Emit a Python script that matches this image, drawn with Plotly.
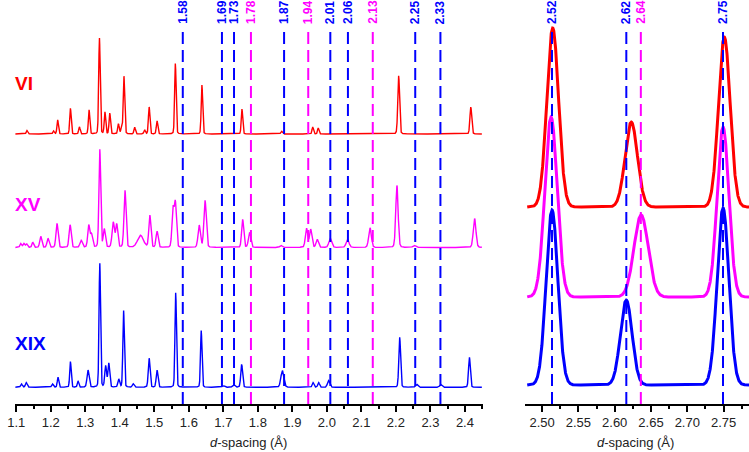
import numpy as np
import plotly.graph_objects as go

# ---------------- data ----------------
# Left panel peak tables: position (Å), height, FWHM (Å)
vi_pos = [1.131, 1.208, 1.220, 1.257, 1.283, 1.311, 1.341, 1.357, 1.371, 1.396, 1.405, 1.412,
          1.443, 1.472, 1.485, 1.508, 1.561, 1.638, 1.754, 1.869, 1.959, 1.975, 2.208, 2.417]
vi_hgt = [3.5, 3, 14, 25.7, 7, 24, 96, 21.7, 20.7, 10, 6, 57.7,
          6.7, 4, 27, 13, 70.7, 49, 25, 2.7, 7, 6, 58.3, 27]
vi_fwhm = [.005, .005, .005, .005, .005, .005, .005, .005, .005, .005, .005, .005,
           .005, .005, .005, .005, .005, .005, .005, .006, .005, .005, .006, .006]

xv_pos = [1.113, 1.122, 1.130, 1.148, 1.171, 1.192, 1.218, 1.256, 1.288, 1.310, 1.318, 1.342,
          1.355, 1.381, 1.391, 1.415, 1.460, 1.487, 1.508, 1.554, 1.561, 1.630, 1.647, 1.756,
          1.776, 1.867, 1.941, 1.953, 1.972, 2.010, 2.060, 2.125, 2.203, 2.253, 2.428]
xv_hgt = [4, 4, 3.5, 5, 11, 9, 24, 22.7, 7, 22, 13, 98,
          18, 25, 23, 57, 12, 32, 16, 38, 44, 22, 47, 28,
          15, 2, 19, 18, 8, 9, 8, 19.7, 62, 2, 29]
xv_fwhm = [.006, .006, .006, .006, .007, .007, .007, .007, .008, .007, .007, .006,
           .007, .008, .007, .007, .020, .007, .007, .007, .007, .008, .008, .007,
           .008, .008, .008, .008, .008, .010, .010, .009, .008, .010, .009]

xix_pos = [1.115, 1.129, 1.205, 1.221, 1.257, 1.279, 1.308, 1.342, 1.359, 1.368, 1.397, 1.411,
           1.439, 1.485, 1.508, 1.562, 1.636, 1.700, 1.730, 1.753, 1.871, 1.960, 1.976, 2.005,
           2.211, 2.260, 2.330, 2.413]
xix_hgt = [3.3, 4.7, 3.3, 10, 25.7, 6.3, 17, 124, 21, 24, 8, 76.7,
           3.3, 29, 17, 94.7, 56.7, 1.5, 2.6, 23, 16.7, 4.7, 4.7, 6.7,
           50, 3, 2.7, 30]
xix_fwhm = [.006, .006, .006, .005, .005, .005, .007, .005, .006, .006, .006, .005,
            .006, .006, .006, .005, .005, .008, .008, .006, .010, .006, .006, .008,
            .006, .008, .008, .006]

# Right panel peak tables
vi_r_pos = [2.5146, 2.6228, 2.7510]
vi_r_hgt = [179, 85, 170]
vi_r_fwhm = [.019, .020, .019]
xv_r_pos = [2.5123, 2.6364, 2.7492]
xv_r_hgt = [180, 82, 170]
xv_r_fwhm = [.020, .023, .019]
xix_r_pos = [2.5136, 2.6159, 2.7492]
xix_r_hgt = [175, 85, 177]
xix_r_fwhm = [.019, .019, .019]

# Reference lines (position, label, colour key)
left_line_pos = [1.5825, 1.696, 1.731, 1.780, 1.876, 1.946, 2.010, 2.061, 2.133, 2.256, 2.329]
left_line_lbl = ["1.58", "1.69", "1.73", "1.78", "1.87", "1.94", "2.01", "2.06", "2.13", "2.25", "2.33"]
left_line_col = ["b", "b", "b", "m", "b", "m", "b", "b", "m", "b", "b"]
right_line_pos = [2.5136, 2.616, 2.636, 2.7492]
right_line_lbl = ["2.52", "2.62", "2.64", "2.75"]
right_line_col = ["b", "b", "m", "b"]

names = ["VI", "XV", "XIX"]

# ---------------- styling ----------------
W, H = 749, 452
AXIS_PX = 404
RED, MAG, BLUE = "#ff0000", "#ff00ff", "#0000ff"
COLS = {"b": BLUE, "m": MAG}
left_offsets = [270, 156.5, 16.7]
right_offsets = [197, 107, 19]
series_cols = [RED, MAG, BLUE]


def profile(x, pos, hgt, fwhm, eta):
    y = np.zeros_like(x)
    for p, h, w in zip(pos, hgt, fwhm):
        s = w / 2.3548
        g = np.exp(-0.5 * ((x - p) / s) ** 2)
        l = 1.0 / (1.0 + ((x - p) / (w / 2)) ** 2)
        y += h * ((1 - eta) * g + eta * l)
    return y


xl = np.linspace(1.097, 2.449, 4000)
xr = np.linspace(2.4795, 2.785, 1500)

fig = go.Figure()
left_tables = [(vi_pos, vi_hgt, vi_fwhm), (xv_pos, xv_hgt, xv_fwhm), (xix_pos, xix_hgt, xix_fwhm)]
right_tables = [(vi_r_pos, vi_r_hgt, vi_r_fwhm), (xv_r_pos, xv_r_hgt, xv_r_fwhm),
                (xix_r_pos, xix_r_hgt, xix_r_fwhm)]

for i in range(3):
    p, h, w = left_tables[i]
    fig.add_trace(go.Scatter(x=xl, y=profile(xl, p, h, w, 0.15) + left_offsets[i], mode="lines",
                             line=dict(color=series_cols[i], width=1.4), xaxis="x", yaxis="y",
                             showlegend=False, hoverinfo="skip"))
for i in [2, 1, 0]:
    p, h, w = right_tables[i]
    fig.add_trace(go.Scatter(x=xr, y=profile(xr, p, h, w, 0.0) + right_offsets[i], mode="lines",
                             line=dict(color=series_cols[i], width=3), xaxis="x2", yaxis="y2",
                             showlegend=False, hoverinfo="skip"))

y_axis_paper = (H - AXIS_PX) / H
y_top_line = (H - 32) / H
shapes = []
annotations = []
for xref, poss, lbls, cols in [("x", left_line_pos, left_line_lbl, left_line_col),
                               ("x2", right_line_pos, right_line_lbl, right_line_col)]:
    for p, lb, c in zip(poss, lbls, cols):
        shapes.append(dict(type="line", xref=xref, yref="paper", x0=p, x1=p,
                           y0=y_axis_paper, y1=y_top_line, layer="above",
                           line=dict(color=COLS[c], width=2, dash="12px,6px")))
        annotations.append(dict(x=p, xref=xref, y=(H - 26) / H, yref="paper", text="<b>%s</b>" % lb,
                                textangle=-90, showarrow=False, xanchor="center", yanchor="bottom",
                                font=dict(family="Liberation Sans, Arial", size=12, color=COLS[c])))

for nm, col, ypx in zip(names, series_cols, [83, 204, 343]):
    annotations.append(dict(x=5 / W, xref="paper", y=(H - ypx) / H, yref="paper", text="<b>%s</b>" % nm,
                            showarrow=False, xanchor="left", yanchor="middle",
                            font=dict(family="Liberation Sans, Arial", size=19, color=col)))

for cx in [243.6, 634]:
    annotations.append(dict(x=cx / W, xref="paper", y=(H - 442) / H, yref="paper",
                            text="<i>d</i>-spacing (Å)", showarrow=False, xanchor="center", yanchor="middle",
                            font=dict(family="Liberation Sans, Arial", size=13, color="#222")))

axis_common = dict(showgrid=False, zeroline=False, showline=True, linecolor="black", linewidth=1.5,
                   ticks="outside", ticklen=6, tickwidth=1.5, tickcolor="black",
                   tickfont=dict(family="Liberation Sans, Arial", size=13, color="#222"),
                   ticklabeloverflow="allow", mirror=False)

fig.update_layout(
    width=W, height=H, margin=dict(l=0, r=0, t=0, b=0),
    plot_bgcolor="white", paper_bgcolor="white",
    xaxis=dict(domain=[7.3 / W, 480 / W], range=[1.097, 2.452], tick0=1.1, dtick=0.1, tickformat=".1f",
               minor=dict(ticks="outside", ticklen=3, tickwidth=1.5, tickcolor="black", dtick=0.05),
               anchor="y", **axis_common),
    xaxis2=dict(domain=[523 / W, 1.0], range=[2.477, 2.785], tick0=2.5, dtick=0.05, tickformat=".2f",
                minor=dict(ticks="outside", ticklen=3, tickwidth=1.5, tickcolor="black", dtick=0.025),
                anchor="y2", **axis_common),
    yaxis=dict(domain=[y_axis_paper, 1.0], range=[0, AXIS_PX], visible=False, anchor="x"),
    yaxis2=dict(domain=[y_axis_paper, 1.0], range=[0, AXIS_PX], visible=False, anchor="x2"),
    shapes=shapes, annotations=annotations,
)

fig.write_html("out.html", config={"displayModeBar": False},
               post_script="document.body.style.margin='0';document.body.style.overflow='hidden';")
